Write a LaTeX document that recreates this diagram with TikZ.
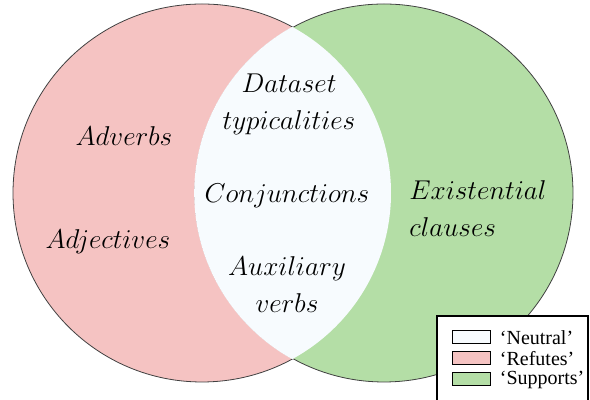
\documentclass[tikz,border=0pt]{standalone}
\usepackage{fix-cm}
\usepackage{amsmath,amssymb}
\usepackage{fontspec}
\newfontfamily\legendfont{Liberation Serif}
\usepackage{tikz}
\usetikzlibrary{positioning}

\definecolor{refutes}{RGB}{245,195,194}
\definecolor{supports}{RGB}{180,222,166}
\definecolor{neutral}{RGB}{247,251,254}

\begin{document}
\begin{tikzpicture}[x=0.5pt, y=0.5pt, font=\fontsize{13.6}{18.5}\selectfont,
    region/.style={align=center, inner sep=0pt},
    swatch/.style={draw, line width=0.5pt, minimum width=19pt, minimum height=6.5pt, inner sep=0pt},
    entry/.style={font=\legendfont, inner sep=0pt}]
    \pgfmathsetmacro{\rad}{189}
    \useasboundingbox (0,0) rectangle (590,400);
    \coordinate (cL) at (202,207);
    \coordinate (cR) at (384,207);
    % the two sets
    \filldraw[fill=refutes, draw=black!75, line width=0.4pt] (cL) circle[radius=\rad];
    \filldraw[fill=supports, draw=black!75, line width=0.4pt] (cR) circle[radius=\rad];
    % overlap of both sets
    \begin{scope}
      \clip (cL) circle[radius=\rad];
      \filldraw[fill=neutral, draw=neutral, line width=0.8pt] (cR) circle[radius=\rad];
    \end{scope}
    % labels in each region
    \node[region] (adverbs) at (124,264) {$Adverbs$};
    \node[region] (adjectives) at (108,158) {$Adjectives$};
    \node[region] (dataset) at (289,296) {$Dataset$\\$typicalities$};
    \node[region] (conj) at (287,204) {$Conjunctions$};
    \node[region] (aux) at (287,115) {$Auxiliary$\\$verbs$};
    \node[region, align=left, anchor=west] (exist) at (409,191) {$Existential$\\$clauses$};
    % legend
    \draw[line width=0.6pt, fill=white] (437,84) rectangle (588,-10);
    \node[swatch, fill=neutral] (swN) at (471,62.5) {};
    \node[swatch, fill=refutes, below=3.5pt of swN] (swR) {};
    \node[swatch, fill=supports, below=3.5pt of swR] (swS) {};
    \node[entry, right=4.5pt of swN] (txN) {‘Neutral’};
    \node[entry, right=4.5pt of swR] (txR) {‘Refutes’};
    \node[entry, right=4.5pt of swS] (txS) {‘Supports’};
\end{tikzpicture}
\end{document}
